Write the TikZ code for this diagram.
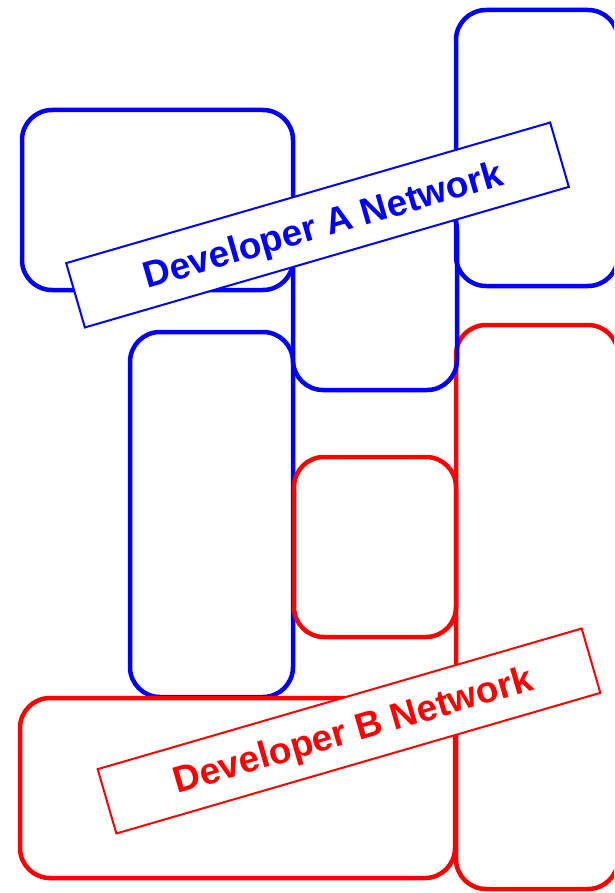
\documentclass[tikz,border=0pt]{standalone}
\usepackage{fontspec}
\setmainfont{Liberation Sans}
\begin{document}
\begin{tikzpicture}[x=1pt,y=-1pt,
  netbox/.style={line width=4.5pt, rounded corners=30pt},
  labelbox/.style={draw, line width=2pt, fill=white, rotate=16.2, minimum width=504pt, minimum height=67pt, inner sep=0pt},
  labeltext/.style={font=\bfseries\fontsize{37}{40}\selectfont, rotate=16.2, inner sep=0pt}]
\useasboundingbox (0,0) rectangle (614,893);
\clip (0,0) rectangle (614,893);
% red right box (behind)
\draw[netbox, red] (456,325) rectangle (618,889);
% blue boxes
\draw[netbox, blue] (456,10) rectangle (618,286);
\draw[netbox, blue] (293,200) rectangle (457,390);
\draw[netbox, blue] (22,110) rectangle (293,290);
\draw[netbox, blue] (130,332) rectangle (293,697);
% red boxes
\draw[netbox, red] (294,457) rectangle (456,637);
\draw[netbox, red] (20,698) rectangle (455,878);
% labels
\node[labelbox, draw=blue] (labA) at (317.5,225) {};
\node[labeltext, text=blue] (txtA) at (323.5,227.5) {Developer A Network};
\node[labelbox, draw=red] (labB) at (349,731) {};
\node[labeltext, text=red] (txtB) at (353.6,732.5) {Developer B Network};
\end{tikzpicture}
\end{document}
